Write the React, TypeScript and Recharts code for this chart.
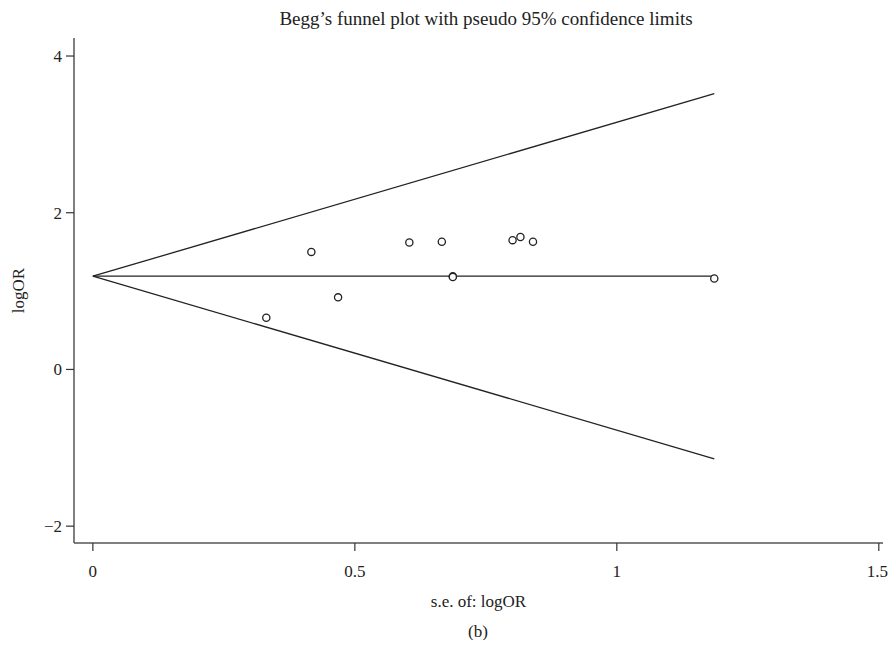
import { ComposedChart, Line, Scatter, XAxis, YAxis } from 'recharts'

// study estimates: standard error vs log odds ratio
const studySE = [0.331, 0.417, 0.468, 0.604, 0.666, 0.687, 0.687, 0.801, 0.816, 0.84, 1.186]
const studyLogOR = [0.66, 1.5, 0.92, 1.62, 1.63, 1.19, 1.18, 1.65, 1.69, 1.63, 1.16]

// pooled estimate and the pseudo 95% limits at se = 0 and at the largest se
const limitSE = [0, 1.186]
const pooled = [1.19, 1.19]
const upperLimit = [1.19, 3.52]
const lowerLimit = [1.19, -1.14]

const xTicks = [0, 0.5, 1, 1.5]
const yTicks = [-2, 0, 2, 4]

const points = studySE.map((se, i) => ({ se, y: studyLogOR[i] }))
const toLine = (ys: number[]) => limitSE.map((se, i) => ({ se, y: ys[i] }))

const FONT = '"Liberation Serif", "DejaVu Serif", serif'
const INK = '#222222'

const OpenCircle = (props: any) => {
  const { cx, cy } = props
  return <circle cx={cx} cy={cy} r={3.6} fill="#ffffff" stroke={INK} strokeWidth={1.3} />
}

const fmt = (v: number) => (v < 0 ? '\u2212' + Math.abs(v) : String(v))

export default function App() {
  return (
    <div style={{ position: 'relative', width: 880, height: 632, fontFamily: FONT }}>
      <div
        style={{
          position: 'absolute',
          top: 0,
          left: 0,
          width: 956,
          textAlign: 'center',
          fontSize: 19,
          color: INK,
          whiteSpace: 'nowrap',
        }}
      >
        Begg’s funnel plot with pseudo 95% confidence limits
      </div>
      <ComposedChart
        width={880}
        height={632}
        margin={{ top: 30, right: 5, bottom: 37, left: 16 }}
      >
        <XAxis
          type="number"
          dataKey="se"
          domain={[-0.036, 1.508]}
          ticks={xTicks}
          allowDataOverflow
          height={60}
          stroke="#555555"
          strokeWidth={1.5}
          tickSize={8}
          tickMargin={14}
          tickFormatter={fmt}
          tick={{ fill: INK, fontSize: 17, fontFamily: FONT }}
          tickLine={{ stroke: '#333333', strokeWidth: 1.2 }}
          label={{
            value: 's.e. of: logOR',
            position: 'insideBottom',
            offset: -4,
            fill: INK,
            fontSize: 17,
            fontFamily: FONT,
          }}
        />
        <YAxis
          type="number"
          domain={[-2.215, 4.23]}
          ticks={yTicks}
          allowDataOverflow
          width={50}
          stroke="#555555"
          strokeWidth={1.5}
          tickSize={8}
          tickMargin={4}
          tickFormatter={fmt}
          tick={{ fill: INK, fontSize: 17, fontFamily: FONT }}
          tickLine={{ stroke: '#333333', strokeWidth: 1.2 }}
          label={{
            value: 'logOR',
            angle: -90,
            position: 'insideLeft',
            offset: -6,
            fill: INK,
            fontSize: 17,
            fontFamily: FONT,
            style: { textAnchor: 'middle' },
          }}
        />
        <Line data={toLine(upperLimit)} dataKey="y" stroke={INK} strokeWidth={1.3} dot={false} isAnimationActive={false} />
        <Line data={toLine(pooled)} dataKey="y" stroke={INK} strokeWidth={1.3} dot={false} isAnimationActive={false} />
        <Line data={toLine(lowerLimit)} dataKey="y" stroke={INK} strokeWidth={1.3} dot={false} isAnimationActive={false} />
        <Scatter data={points} dataKey="y" shape={OpenCircle} isAnimationActive={false} />
      </ComposedChart>
      <div
        style={{
          position: 'absolute',
          top: 614,
          left: 0,
          width: 940,
          textAlign: 'center',
          fontSize: 17,
          color: INK,
        }}
      >
        (b)
      </div>
    </div>
  )
}
